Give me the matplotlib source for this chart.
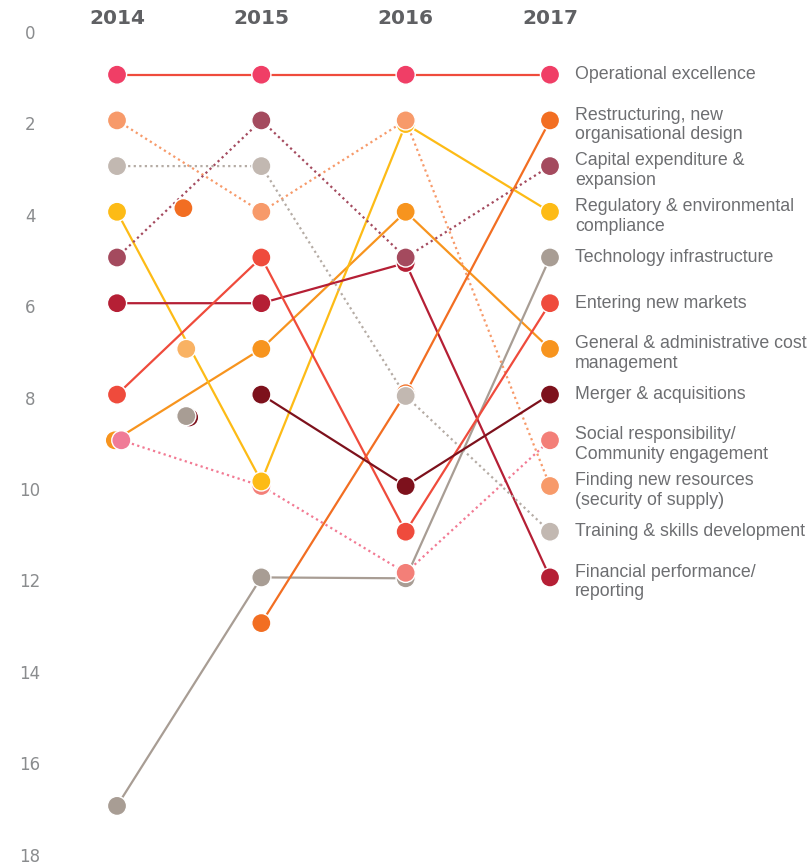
import numpy as np
import matplotlib.pyplot as plt
from matplotlib.transforms import ScaledTranslation

years = [2014, 2015, 2016, 2017]

# series listed in drawing order (later ones sit on top where dots overlap)
names = [
    'Operational excellence',
    'General & administrative cost\nmanagement',
    'Technology infrastructure',
    'Social responsibility/\nCommunity engagement',
    'Regulatory & environmental\ncompliance',
    'Finding new resources\n(security of supply)',
    'Financial performance/\nreporting',
    'Capital expenditure &\nexpansion',
    'Restructuring, new\norganisational design',
    'Training & skills development',
    'Entering new markets',
    'Merger & acquisitions',
]
ranks = [
    [1, 1, 1, 1],
    [9, 7, 4, 7],
    [17, 12, 12.02, 5],
    [9, 10, 11.9, 9],
    [4, 9.9, 2.08, 4],
    [2, 4, 2, 10],
    [6, 6, 5.12, 12],
    [5, 2, 5, 3],
    [np.nan, 13, 7.97, 2],
    [3, 3, 8.03, 11],
    [8, 5, 11, 6],
    [np.nan, 8, 10, 8],
]
x_shift = [0, -0.015, 0, 0.03, 0, 0, 0, 0, -0.02, 0, 0, 0]
dot_colors = ['#F03E66', '#F7941E', '#A89D94', '#F37F78', '#FDBB16', '#F79A6A',
              '#B51F35', '#A44A5E', '#F26E22', '#C2B8B1', '#EF4B3C', '#7D111C']
line_colors = ['#EF4B3C', '#F7941E', '#A89D94', '#F27A93', '#FDBB16', '#F79A6A',
               '#B51F35', '#A44A5E', '#F26E22', '#B5ACA5', '#EF4B3C', '#7D111C']
dotted = [False, False, False, True, False, True, False, True, False, True, False, False]

# loose dots sitting between 2014 and 2015
stray_x = [2014.46, 2014.48, 2014.50, 2014.48]
stray_y = [3.92, 7.0, 8.5, 8.47]
stray_colors = ['#F26E22', '#F9B263', '#7D111C', '#A89D94']

fig = plt.figure(figsize=(8.1, 8.65), dpi=100)
ax = fig.add_axes([80 / 810, 1 - 851.6 / 865, 480 / 810, 822.6 / 865])

for i, name in enumerate(names):
    xs = np.array(years, dtype=float)
    xs[0] += x_shift[i]
    ys = np.array(ranks[i], dtype=float)
    ls = (0, (1, 1.5)) if dotted[i] else '-'
    ax.plot(xs, ys, color=line_colors[i], lw=1.6, ls=ls, zorder=2, clip_on=False)

for i, name in enumerate(names):
    xs = np.array(years, dtype=float)
    xs[0] += x_shift[i]
    cols = [dot_colors[i]] * 4
    if i == 3:
        cols[0] = '#F07B97'
    ax.scatter(xs, ranks[i], s=190, c=cols, edgecolors='white', linewidths=1,
               zorder=3 + i * 0.01, clip_on=False)
    ax.text(2017 + 25 / 144.3, ranks[i][-1] + (0.1 if '\n' in name else 0), name,
            ha='left', va='center', fontsize=12.8, family='Liberation Sans',
            color='#6D6E71', linespacing=1.22)

ax.scatter(stray_x, stray_y, s=190, c=stray_colors, edgecolors='white',
           linewidths=1, zorder=3, clip_on=False)

ax.set_xlim(2014 - 37 / 144.3, 2017 + 10 / 144.3)
ax.set_ylim(18, 0)

ax.xaxis.tick_top()
ax.set_xticks(years)
ax.set_xticklabels([str(y) for y in years], fontsize=14.5, fontweight='heavy',
                   family='DejaVu Sans', color='#5F6063')
ax.set_yticks(range(0, 19, 2))
ax.set_yticklabels([str(v) for v in range(0, 19, 2)], fontsize=12,
                   family='DejaVu Sans', color='#8A8C8E', ha='center',
                   va='center_baseline')
ax.tick_params(axis='x', length=0, pad=1)
ax.tick_params(axis='y', length=0, pad=36)
for lab in ax.get_yticklabels():
    lab.set_transform(lab.get_transform() + ScaledTranslation(0, -3 / 100, fig.dpi_scale_trans))

for s in ax.spines.values():
    s.set_visible(False)

fig.savefig('out.png', dpi=100)
